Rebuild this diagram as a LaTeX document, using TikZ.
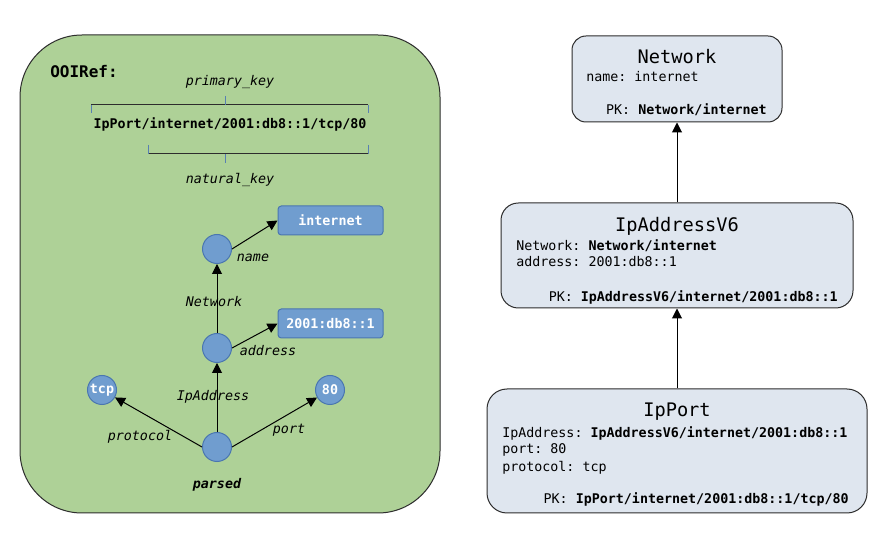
\documentclass[tikz,border=0pt]{standalone}
\usepackage{fontspec}
\setmainfont{DejaVu Sans Mono}
\usetikzlibrary{arrows.meta}
\definecolor{greenfill}{RGB}{174,209,151}
\definecolor{bluefill}{RGB}{112,157,207}
\definecolor{bluedraw}{RGB}{74,118,176}
\definecolor{boxfill}{RGB}{223,230,239}
\definecolor{tickblue}{RGB}{88,128,178}
\definecolor{edgegray}{RGB}{45,45,45}
\tikzset{
  dot/.style={circle, fill=bluefill, draw=bluedraw, line width=0.75pt, minimum size=21.75pt, inner sep=0pt, text=white, font=\bfseries},
  valbox/.style={rectangle, rounded corners=2.5pt, fill=bluefill, draw=bluedraw, line width=0.75pt, text=white, font=\bfseries, minimum width=78.75pt, minimum height=21.75pt, inner sep=0pt},
  elabel/.style={font=\itshape, inner sep=0pt},
  arr/.style={-{Triangle[length=7.5pt,width=7.5pt]}, line width=0.75pt, draw=black},
  ent/.style={rectangle, draw=edgegray, fill=boxfill, line width=0.75pt, inner sep=0pt},
  enttitle/.style={font=\fontsize{14}{16}\selectfont, inner sep=0pt},
  enttext/.style={anchor=west, inner sep=0pt},
  pktext/.style={anchor=east, inner sep=0pt},
  brack/.style={line width=0.75pt, draw=edgegray},
  tick/.style={line width=0.75pt, draw=tickblue},
}
\frenchspacing
\begin{document}
\frenchspacing
\begin{tikzpicture}[x=0.75pt, y=-0.75pt, font=\fontsize{10}{12}\selectfont\frenchspacing]
\useasboundingbox (0,0) rectangle (894,545);
\fill[white] (0,0) rectangle (894,545);

% ---------- left: OOIRef ----------
\node[rectangle, rounded corners=46.5pt, fill=greenfill, draw=edgegray, line width=0.75pt,
      minimum width=315pt, minimum height=358.5pt, inner sep=0pt] (ooibox) at (230,274) {};
\node[anchor=west, inner sep=0pt, font=\fontsize{12}{14}\selectfont\bfseries] (ooititle) at (50,72) {OOIRef:};
\node[elabel] (pklabel) at (230,82) {primary\_key};
\node[inner sep=0pt, font=\bfseries] (reftext) at (230,124) {IpPort/internet/2001:db8::1/tcp/80};
\node[elabel] (nklabel) at (230,180) {natural\_key};

% brackets
\draw[brack] (91,105) -- (368,105);
\draw[tick] (91,105) -- (91,113);
\draw[tick] (368,105) -- (368,113);
\draw[tick] (225,96) -- (225,105);
\draw[brack] (148,154) -- (368,154);
\draw[tick] (148,145) -- (148,154);
\draw[tick] (368,145) -- (368,154);
\draw[tick] (225,154) -- (225,163);

% graph
\node[dot] (parsed) at (217,447) {};
\node[dot] (addr) at (217,348) {};
\node[dot] (name) at (217,249) {};
\node[dot] (tcp) at (102,390) {tcp};
\node[dot] (port) at (330,390) {80};
\node[valbox] (internet) at (330.5,220.5) {internet};
\node[valbox] (ipval) at (330.5,323.5) {2001:db8::1};

\draw[arr] (parsed.north) -- (addr.south);
\draw[arr] (addr.north) -- (name.south);
\draw[arr] (name.east) -- (internet.west);
\draw[arr] (addr.east) -- (ipval.west);
\draw[arr] (parsed.west) -- (tcp);
\draw[arr] (parsed.east) -- (port);

\node[elabel] (lname) at (253,258) {name};
\node[elabel] (lnetwork) at (214,302) {Network};
\node[elabel] (laddress) at (268,351) {address};
\node[elabel] (lipaddress) at (213,397) {IpAddress};
\node[elabel] (lprotocol) at (140,437) {protocol};
\node[elabel] (lport) at (289,430) {port};
\node[elabel, font=\bfseries\itshape] (lparsed) at (217,485) {parsed};

% ---------- right: entities ----------
\node[ent, rounded corners=10.5pt, minimum width=157.5pt, minimum height=64.5pt] (net) at (677,79) {};
\node[enttitle] (nettitle) at (677,57) {Network};
\node[enttext] (netname) at (586,77) {name: internet};
\node[pktext] (netpk) at (767,110) {PK: \textbf{Network/internet}};

\node[ent, rounded corners=13pt, minimum width=264pt, minimum height=78.75pt] (ipv6) at (677,255.5) {};
\node[enttitle] (ipv6title) at (677,226) {IpAddressV6};
\node[enttext] (ipv6net) at (516,246) {Network: \textbf{Network/internet}};
\node[enttext] (ipv6addr) at (516,262) {address: 2001:db8::1};
\node[pktext] (ipv6pk) at (838,297) {PK: \textbf{IpAddressV6/internet/2001:db8::1}};

\node[ent, rounded corners=15pt, minimum width=285pt, minimum height=93pt] (ipport) at (677,451) {};
\node[enttitle] (ipporttitle) at (677,412) {IpPort};
\node[enttext] (ipportaddr) at (502,433) {IpAddress: \textbf{IpAddressV6/internet/2001:db8::1}};
\node[enttext] (ipportport) at (502,450) {port: 80};
\node[enttext] (ipportproto) at (502,468) {protocol: tcp};
\node[pktext] (ipportpk) at (849,499) {PK: \textbf{IpPort/internet/2001:db8::1/tcp/80}};

\draw[arr] (ipv6.north) -- (net.south);
\draw[arr] (ipport.north) -- (ipv6.south);
\end{tikzpicture}
\end{document}
